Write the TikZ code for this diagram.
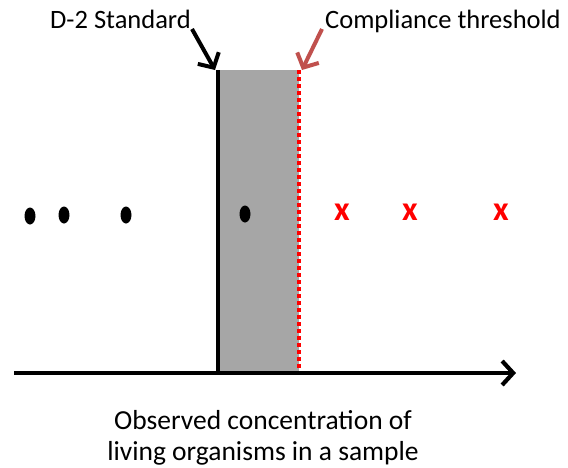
\documentclass[tikz,border=0pt]{standalone}
\usepackage{fontspec}
\setmainfont{Carlito}
\usetikzlibrary{arrows.meta,shapes.geometric}
\definecolor{callout}{HTML}{C0504D}
\definecolor{zone}{HTML}{A6A6A6}
\begin{document}
\begin{tikzpicture}[x=1pt,y=-1pt,
  lbl/.style={font=\fontsize{26.5}{30}\selectfont, inner sep=0pt},
  dotmark/.style={fill=black, ellipse, minimum width=11pt, minimum height=17pt, inner sep=0pt},
  xmark/.style={text=red, font=\fontsize{34}{34}\selectfont\bfseries, inner sep=0pt},
  pointer/.style={line width=4pt, -{Straight Barb[length=11pt,width=24pt]}}]
\useasboundingbox (0,0) rectangle (568,467);
\fill[zone] (218,70) rectangle (299,372);
\coordinate (stdtop) at (218,70);
\coordinate (stdbot) at (218,372);
\coordinate (thrtop) at (299,70);
\coordinate (thrbot) at (299,372);
\draw[line width=4pt] (stdtop) -- (stdbot);
\draw[red, line width=3.2pt, dash pattern=on 3.5pt off 3.5pt] (thrtop) -- (thrbot);
\coordinate (axs) at (14,373);
\coordinate (axe) at (516,373);
\draw[line width=4.2pt, -{Straight Barb[length=11pt,width=24pt]}] (axs) -- (axe);
\node[lbl, anchor=base west] (std) at (50,28) {D-2 Standard};
\node[lbl, anchor=base west] (thr) at (325,28) {Compliance threshold};
\coordinate (s1) at (192,29);
\coordinate (s2) at (215,70);
\coordinate (t1) at (322,29);
\coordinate (t2) at (302,70);
\draw[pointer, black] (s1) -- (s2);
\draw[pointer, callout] (t1) -- (t2);
\node[dotmark] (d1) at (30,216) {};
\node[dotmark] (d2) at (64,215) {};
\node[dotmark] (d3) at (126,215) {};
\node[dotmark] (d4) at (245,214) {};
\node[xmark] (x1) at (342,212) {x};
\node[xmark] (x2) at (410,212) {x};
\node[xmark] (x3) at (501,212) {x};
\node[lbl, align=center, font=\fontsize{27.5}{31}\selectfont] (cap) at (263,438) {Observed concentration of\\living organisms in a sample};
\end{tikzpicture}
\end{document}
